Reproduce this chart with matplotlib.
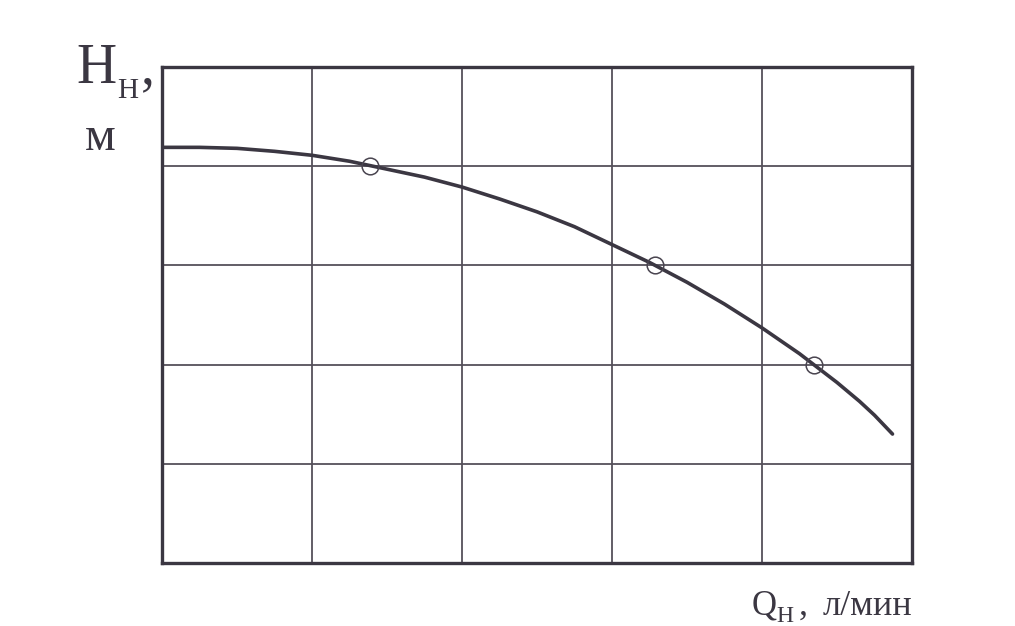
import numpy as np
import matplotlib
matplotlib.use('Agg')
import matplotlib.pyplot as plt

# curve (grid units: 5 x 5 cells)
q = [0.0, 0.25, 0.5, 0.75, 1.0, 1.25, 1.5, 1.75, 2.0, 2.25, 2.5,
     2.75, 3.0, 3.25, 3.5, 3.75, 4.0, 4.25, 4.5, 4.65, 4.75, 4.87]
h = [4.19, 4.19, 4.18, 4.15, 4.11, 4.05, 3.97, 3.89, 3.79, 3.67, 3.54,
     3.39, 3.21, 3.03, 2.83, 2.61, 2.37, 2.11, 1.82, 1.63, 1.49, 1.30]
# marked points
q_pts = [1.387, 3.29, 4.35]
h_pts = [4.0, 3.0, 2.0]

ink = '#3b3742'
serif = ['Liberation Serif', 'DejaVu Serif']

fig = plt.figure(figsize=(10.15, 6.26), dpi=100)
ax = fig.add_axes([162/1015, 63/626, 750/1015, 496/626])
ax.set_xlim(0, 5)
ax.set_ylim(0, 5)
ax.set_xticks([1, 2, 3, 4])
ax.set_yticks([1, 2, 3, 4])
ax.tick_params(length=0, labelbottom=False, labelleft=False)
ax.grid(True, color='#55505a', lw=1.3)
for s in ax.spines.values():
    s.set_color(ink)
    s.set_linewidth(2.4)

ax.plot(q, h, color=ink, lw=2.6, solid_capstyle='round',
        solid_joinstyle='round', zorder=3)
ax.plot(q_pts, h_pts, 'o', ms=12, mfc='none', mec='#4a4550', mew=1.1, zorder=4)

# y label
fig.text(76/1015, (626-83)/626, 'H', fontsize=40, family=serif, color=ink)
fig.text(117/1015, (626-98)/626, 'Н', fontsize=21, family=serif, color=ink)
fig.text(141/1015, (626-83)/626, ',', fontsize=40, family=serif, color=ink)
fig.text(85/1015, (626-150)/626, 'м', fontsize=35, family=serif, color=ink)

# x label
fig.text(752/1015, (626-615)/626, 'Q', fontsize=25, family=serif, color=ink)
fig.text(776/1015, (626-622)/626, 'Н', fontsize=17, family=serif, color=ink)
fig.text(799/1015, (626-615)/626, ',', fontsize=26, family=serif, color=ink)
fig.text(912/1015, (626-615)/626, 'л/мин', fontsize=26, family=serif,
         color=ink, ha='right')

fig.savefig('out.png', dpi=100, facecolor='white')
